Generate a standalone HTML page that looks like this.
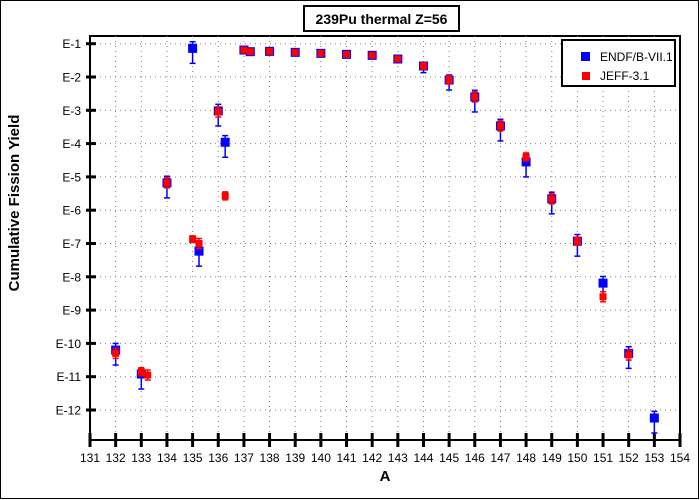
<!DOCTYPE html>
<html><head><meta charset="utf-8"><style>
body{margin:0;background:#fff}
svg{display:block;font-family:"Liberation Sans",sans-serif}
</style></head><body>
<svg id="c" width="700" height="500">
<rect x="0.5" y="0.5" width="698" height="498" fill="#fff" stroke="#000" stroke-width="1"/>
<g>
<rect x="304" y="6" width="155" height="25" fill="#fff" stroke="#000" stroke-width="2"/>
<text x="381.5" y="24" text-anchor="middle" font-size="14" font-weight="bold">239Pu thermal Z=56</text>
</g>
<g id="grid"></g><g id="axes"></g><g id="marks"></g>
<text x="385" y="481" text-anchor="middle" font-size="15" font-weight="bold">A</text>
<text transform="translate(19,203) rotate(-90)" text-anchor="middle" font-size="15" font-weight="bold">Cumulative Fission Yield</text>
<g>
<rect x="562" y="40" width="113" height="46" fill="#fff" stroke="#000" stroke-width="2"/>
<g><rect x="581" y="52" width="9" height="9" fill="#0000ff"/><text x="600" y="61" font-size="12">ENDF/B-VII.1</text></g>
<g><rect x="582" y="72" width="8" height="8" fill="#ff0000"/><text x="600" y="80" font-size="12">JEFF-3.1</text></g>
</g>
</svg>
<script>
const xTicks=[131,132,133,134,135,136,137,138,139,140,141,142,143,144,145,146,147,148,149,150,151,152,153,154];
const yTicks=[-1,-2,-3,-4,-5,-6,-7,-8,-9,-10,-11,-12];
const yTickLabels=["E-1","E-2","E-3","E-4","E-5","E-6","E-7","E-8","E-9","E-10","E-11","E-12"];
const endfA=[132,133,134,135,135.25,136,136.27,137,137.25,138,139,140,141,142,143,144,145,146,147,148,149,150,151,152,153];
const endfLog=[-10.2,-10.92,-5.18,-1.14,-7.23,-3.02,-3.96,-1.19,-1.24,-1.23,-1.26,-1.29,-1.32,-1.35,-1.46,-1.67,-2.09,-2.6,-3.47,-4.55,-5.66,-6.93,-8.19,-10.3,-12.24];
const endfErrUp=[0.2,0.12,0.2,0.2,0.2,0.2,0.2,0.03,0.03,0.03,0.03,0.03,0.03,0.03,0.05,0.1,0.15,0.2,0.2,0.2,0.2,0.2,0.2,0.2,0.2];
const endfErrDn=[0.45,0.45,0.45,0.45,0.45,0.45,0.45,0.05,0.05,0.05,0.05,0.05,0.05,0.05,0.1,0.2,0.3,0.45,0.45,0.45,0.45,0.45,0.45,0.45,0.45];
const jeffA=[132,133,133.25,134,135,135.25,136,136.27,137,137.25,138,139,140,141,142,143,144,145,146,147,148,149,150,151,152];
const jeffLog=[-10.3,-10.85,-10.95,-5.18,-6.87,-7.0,-3.05,-5.57,-1.19,-1.24,-1.23,-1.26,-1.29,-1.32,-1.35,-1.46,-1.67,-2.09,-2.6,-3.47,-4.4,-5.66,-6.93,-8.6,-10.35];
const jeffErr=[0.15,0.12,0.15,0.15,0.1,0.15,0.15,0.12,0.03,0.03,0.03,0.03,0.03,0.03,0.03,0.05,0.1,0.12,0.15,0.15,0.12,0.15,0.12,0.15,0.15];

const L=90,R=680,T=36,B=440;
const xs=a=>L+(a-131)*(R-L)/23;
const ys=e=>43.7+(-1-e)*33.3;
const NS="http://www.w3.org/2000/svg";
function mk(p,tag,at){const e=document.createElementNS(NS,tag);for(const k in at)e.setAttribute(k,at[k]);p.appendChild(e);return e;}
const grid=document.getElementById('grid'),axes=document.getElementById('axes'),marks=document.getElementById('marks');
mk(grid,'rect',{x:L,y:T,width:R-L,height:B-T,fill:'#fff',stroke:'#000','stroke-width':2});
xTicks.forEach(t=>{
 if(t>131&&t<154){const g=mk(grid,'line',{x1:xs(t),x2:xs(t),y1:T,y2:B,stroke:'#808080','stroke-dasharray':'1 4'});
 
 }
 const k=mk(axes,'line',{x1:xs(t),x2:xs(t),y1:B-7,y2:B+7,stroke:'#000','stroke-width':3});
 
 
 const l=mk(axes,'text',{x:xs(t),y:B+22,'text-anchor':'middle','font-size':12});
 l.textContent=t;
 
 
});
yTicks.forEach((t,i)=>{
 const g=mk(grid,'line',{x1:L,x2:R,y1:ys(t),y2:ys(t),stroke:'#808080','stroke-dasharray':'1 4'});
 
 
 const k=mk(axes,'line',{x1:L-4,x2:L+6,y1:ys(t),y2:ys(t),stroke:'#000','stroke-width':3});
 
 
 const l=mk(axes,'text',{x:L-9,y:ys(t)+4.5,'text-anchor':'end','font-size':12});
 l.textContent=yTickLabels[i];
 
 
});
function errbar(x,y1,y2,c){mk(marks,'line',{x1:x,x2:x,y1:y1,y2:y2,stroke:c,'stroke-width':1.5});
 mk(marks,'line',{x1:x-3,x2:x+3,y1:y1,y2:y1,stroke:c,'stroke-width':1.5});
 mk(marks,'line',{x1:x-3,x2:x+3,y1:y2,y2:y2,stroke:c,'stroke-width':1.5});}
endfA.forEach((a,i)=>{
 const x=xs(a),y=ys(endfLog[i]);
 errbar(x,ys(endfLog[i]+endfErrUp[i]),ys(endfLog[i]-endfErrDn[i]),'#0000ff');
 const r=mk(marks,'rect',{x:x-4.5,y:y-4.5,width:9,height:9,fill:'#0000ff'});
 
 
});
jeffA.forEach((a,i)=>{
 const x=xs(a),y=ys(jeffLog[i]);
 errbar(x,ys(jeffLog[i]+jeffErr[i]),ys(jeffLog[i]-jeffErr[i]),'#ff0000');
 const r=mk(marks,'rect',{x:x-3.5,y:y-3.5,width:7,height:7,fill:'#ff0000'});
 
 
});
</script>
</body></html>
